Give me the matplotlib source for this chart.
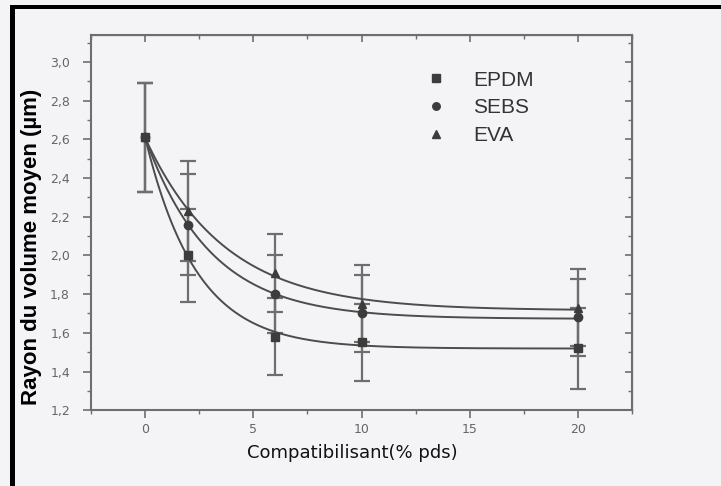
import numpy as np
import matplotlib
matplotlib.use("Agg")
from matplotlib import pyplot as plt
from matplotlib.patches import Rectangle

# data
comp = np.array([0, 2, 6, 10, 20])
names = ["EPDM", "SEBS", "EVA"]
epdm = np.array([2.61, 2.00, 1.58, 1.55, 1.52])
sebs = np.array([2.61, 2.16, 1.80, 1.70, 1.68])
eva = np.array([2.61, 2.23, 1.91, 1.75, 1.73])
epdm_err = np.array([0.28, 0.24, 0.20, 0.20, 0.21])
sebs_err = np.array([0.28, 0.26, 0.20, 0.20, 0.20])
eva_err = np.array([0.28, 0.26, 0.20, 0.20, 0.20])
yticks = [1.2, 1.4, 1.6, 1.8, 2.0, 2.2, 2.4, 2.6, 2.8, 3.0]
xticks = [0, 5, 10, 15, 20]


def fit_decay(x, y):
    # y = y0 + A*exp(-x/t), t by grid search, y0/A by least squares
    best = None
    for t in np.linspace(0.3, 15, 600):
        M = np.column_stack([np.ones(len(x)), np.exp(-x / t)])
        coef = np.linalg.lstsq(M, y, rcond=None)[0]
        err = np.sum((M @ coef - y) ** 2)
        if best is None or err < best[0]:
            best = (err, t, coef)
    return best[1], best[2]


fig = plt.figure(figsize=(7.21, 4.86), dpi=100)
fig.patch.set_facecolor("#f4f4f6")
ax = fig.add_axes([0.126, 0.156, 0.751, 0.772])
ax.set_facecolor("#f4f4f6")

mk = {"EPDM": "s", "SEBS": "o", "EVA": "^"}
dark = "#3c3c3c"
handles = []
for name, y, e in zip(names, [epdm, sebs, eva], [epdm_err, sebs_err, eva_err]):
    ax.errorbar(comp, y, yerr=e, fmt="none", ecolor="#6e6e6e", elinewidth=1.6,
                capsize=6, capthick=1.6, zorder=2)
    t, c = fit_decay(comp.astype(float), y)
    xs = np.linspace(0, 20, 300)
    ax.plot(xs, c[0] + c[1] * np.exp(-xs / t), color="#4c4c4c", lw=1.4, zorder=3)
    h, = ax.plot(comp, y, ls="none", marker=mk[name], ms=6, color=dark,
                 label=name, zorder=4)
    handles.append(h)

ax.set_xlim(-2.4, 22.5)
ax.set_ylim(1.2, 3.14)
ax.set_xticks(xticks)
ax.set_yticks(yticks)
ax.set_xticks(np.arange(-2.5, 22.6, 2.5), minor=True)
ax.set_yticks(np.arange(1.2, 3.15, 0.1), minor=True)
ax.set_yticklabels([("%.1f" % v).replace(".", ",") for v in yticks])
ax.tick_params(which="both", direction="out", colors="#6e6e6e", labelsize=9,
               labelcolor="#666666")
ax.tick_params(which="major", length=6, width=1.2)
ax.tick_params(which="minor", length=3, width=1.0)
ax.tick_params(axis="y", which="major", pad=9)
ax.tick_params(axis="x", which="major", pad=3)
for s in ax.spines.values():
    s.set_color("#6e6e6e")
    s.set_linewidth(1.5)

# top/right inward ticks
top = ax.secondary_xaxis("top")
top.set_xticks(xticks)
top.set_xticks(np.arange(-2.5, 22.6, 2.5), minor=True)
top.tick_params(which="both", direction="in", colors="#6e6e6e", labeltop=False)
top.tick_params(which="major", length=5, width=1.2)
top.tick_params(which="minor", length=3, width=1.0)
right = ax.secondary_yaxis("right")
right.set_yticks(yticks)
right.set_yticks(np.arange(1.2, 3.15, 0.1), minor=True)
right.tick_params(which="both", direction="in", colors="#6e6e6e", labelright=False)
right.tick_params(which="major", length=5, width=1.2)
right.tick_params(which="minor", length=3, width=1.0)

ax.set_xlabel("Compatibilisant(% pds)", fontsize=13, family="DejaVu Sans",
              color="#111111")
ax.xaxis.set_label_coords(0.482, -0.09)
ax.set_ylabel("Rayon du volume moyen (µm)", fontsize=16, family="Liberation Sans",
              fontweight="bold", color="#000000")
ax.yaxis.set_label_coords(-0.09, 0.435)

leg = ax.legend(handles=handles, loc="upper left", bbox_to_anchor=(0.583, 0.955),
                frameon=False, handlelength=1.0, handletextpad=1.3,
                labelspacing=0.42, markerscale=0.9,
                prop={"family": "Liberation Sans", "size": 15})
for txt in leg.get_texts():
    txt.set_color("#333333")

# black frame of the scan (top and left)
fig.add_artist(Rectangle((10 / 721, 1 - 9 / 486), 1, 4 / 486, transform=fig.transFigure,
                         color="black", lw=0))
fig.add_artist(Rectangle((10 / 721, 0), 5 / 721, 1 - 5 / 486, transform=fig.transFigure,
                         color="black", lw=0))

fig.savefig("out.png", dpi=100, facecolor=fig.get_facecolor())
